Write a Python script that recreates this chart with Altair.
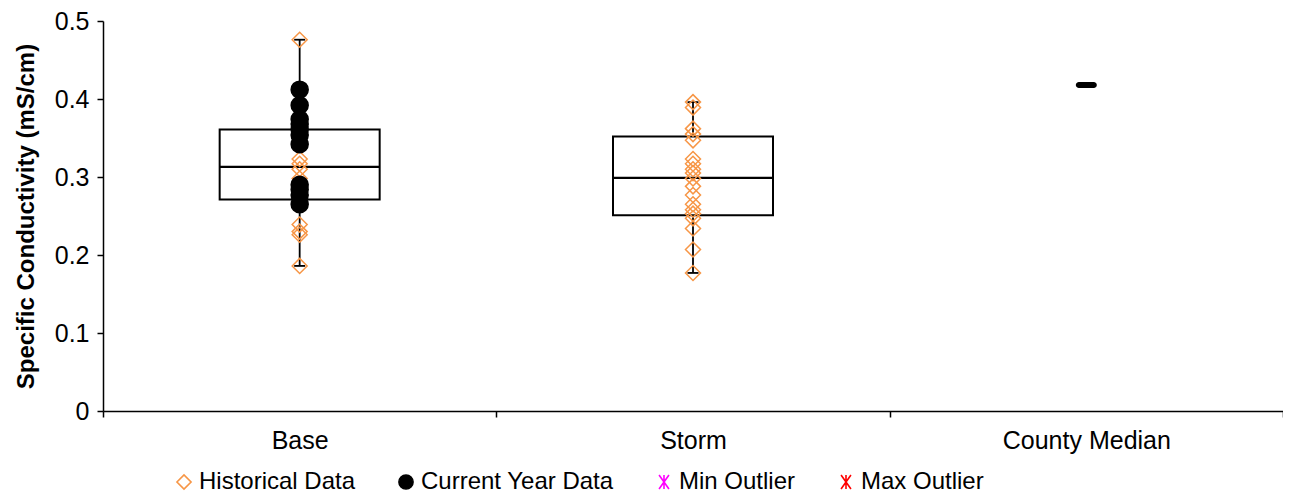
import altair as alt
import pandas as pd

# ---------------- data ----------------
categories = ["Base", "Storm", "County Median"]
series_names = ["Historical Data", "Current Year Data", "Min Outlier", "Max Outlier"]
series_colors = ["#F79646", "#000000", "#FF00FF", "#FF0000"]
series_fills = ["transparent", "#000000", "transparent", "transparent"]

base_historical = [0.476, 0.392, 0.370, 0.357, 0.323, 0.317, 0.310, 0.298,
                   0.285, 0.275, 0.239, 0.230, 0.226, 0.186]
storm_historical = [0.396, 0.389, 0.362, 0.355, 0.347, 0.323, 0.317, 0.310,
                    0.305, 0.298, 0.288, 0.277, 0.265, 0.258, 0.253, 0.247,
                    0.234, 0.207, 0.177]
base_current = [0.412, 0.392, 0.374, 0.368, 0.361, 0.354, 0.342,
                0.290, 0.284, 0.277, 0.265]

box_categories = ["Base", "Storm"]
box_min = [0.186, 0.177]
box_q1 = [0.271, 0.251]
box_median = [0.313, 0.299]
box_q3 = [0.361, 0.352]
box_max = [0.476, 0.396]

county_median = [0.418]

y_title = "Specific Conductivity (mS/cm)"
y_ticks = [0, 0.1, 0.2, 0.3, 0.4, 0.5]

# ---------------- tables ----------------
rows = []
for v in base_historical:
    rows.append({"category": "Base", "series": "Historical Data", "value": v})
for v in storm_historical:
    rows.append({"category": "Storm", "series": "Historical Data", "value": v})
for v in base_current:
    rows.append({"category": "Base", "series": "Current Year Data", "value": v})
points_df = pd.DataFrame(rows)

box_df = pd.DataFrame({
    "category": box_categories, "lo": box_min, "q1": box_q1,
    "med": box_median, "q3": box_q3, "hi": box_max,
})
county_df = pd.DataFrame({"category": ["County Median"], "value": county_median})

FONT = "Liberation Sans"


def X():
    return alt.X(
        "category:N",
        scale=alt.Scale(domain=categories, paddingInner=0, paddingOuter=0),
        axis=alt.Axis(title=None, labelAngle=0, tickBand="extent", tickSize=6,
                      labelPadding=11, labelFontSize=25, domainWidth=1.5,
                      tickWidth=1.5),
    )


def Y(field):
    return alt.Y(
        field,
        title=y_title,
        scale=alt.Scale(domain=[0, 0.5], nice=False, zero=True),
        axis=alt.Axis(values=y_ticks, format="~g", tickSize=6, labelPadding=8,
                      labelFontSize=25, titleFontSize=24, titleFontWeight="bold",
                      titlePadding=16, domainWidth=1.5, tickWidth=1.5),
    )


box = alt.Chart(box_df).mark_bar(
    size=160, fill="white", fillOpacity=0, stroke="black", strokeWidth=2
).encode(x=X(), y=Y("q1:Q"), y2="q3:Q")

whisker_lo = alt.Chart(box_df).mark_rule(color="black", strokeWidth=1.8).encode(
    x=X(), y=Y("lo:Q"), y2="q1:Q")
whisker_hi = alt.Chart(box_df).mark_rule(color="black", strokeWidth=1.8).encode(
    x=X(), y=Y("q3:Q"), y2="hi:Q")
cap_lo = alt.Chart(box_df).mark_tick(
    orient="horizontal", size=11, thickness=1.8, color="black", opacity=1
).encode(x=X(), y=Y("lo:Q"))
cap_hi = alt.Chart(box_df).mark_tick(
    orient="horizontal", size=11, thickness=1.8, color="black", opacity=1
).encode(x=X(), y=Y("hi:Q"))
median = alt.Chart(box_df).mark_tick(
    orient="horizontal", size=160, thickness=2.2, color="black", opacity=1
).encode(x=X(), y=Y("med:Q"))

legend = alt.Legend(
    title=None, orient="none", direction="horizontal", legendX=69, legendY=449,
    labelFontSize=24, labelFont=FONT, labelColor="black", labelLimit=0,
    symbolSize=200, symbolStrokeWidth=1.6, labelOffset=3, columnPadding=38,
    padding=0,
)

asterisk = "M-0.7,-1L0.7,1M-0.7,1L0.7,-1M0,-1L0,1"

points = alt.Chart(points_df).mark_point(filled=False, strokeWidth=1.5, opacity=1).encode(
    x=X(),
    y=Y("value:Q"),
    color=alt.Color("series:N", scale=alt.Scale(domain=series_names, range=series_colors),
                    legend=legend),
    fill=alt.Fill("series:N", scale=alt.Scale(domain=series_names, range=series_fills),
                  legend=legend),
    shape=alt.Shape("series:N",
                    scale=alt.Scale(domain=series_names,
                                    range=["diamond", "circle", asterisk, asterisk]),
                    legend=legend),
    size=alt.condition(alt.datum.series == "Current Year Data", alt.value(290), alt.value(225)),
)

county = alt.Chart(county_df).mark_tick(
    orient="horizontal", size=21, thickness=6, cornerRadius=3, color="black", opacity=1
).encode(x=X(), y=Y("value:Q"))

chart = alt.layer(
    box, whisker_lo, whisker_hi, cap_lo, cap_hi, median, points, county
).properties(
    width=1180, height=390,
    autosize=alt.AutoSizeParams(type="none"),
    padding={"left": 95, "top": 13, "right": 0, "bottom": 85},
).configure_view(stroke=None).configure_axis(
    grid=False, domainColor="black", tickColor="black", labelColor="black",
    titleColor="black", labelFont=FONT, titleFont=FONT,
)

chart.save("out.html", embed_options={"renderer": "svg", "actions": False})
